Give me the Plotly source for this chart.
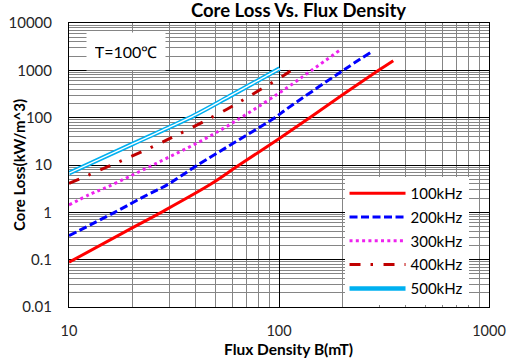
import plotly.graph_objects as go

# ---- data ----
names = ["100kHz", "200kHz", "300kHz", "400kHz", "500kHz"]

b_100k = [10, 20, 27.5, 47.6, 64.6, 100, 140, 200, 298, 350]
p_100k = [0.088, 0.47, 1.0, 4.0, 10, 36, 100, 300, 1000, 1600]

b_200k = [10, 16.5, 23.4, 29.6, 41, 95.5, 108, 202, 275]
p_200k = [0.32, 1.0, 2.3, 3.9, 10, 100, 149, 1000, 2440]

b_300k = [10, 12.6, 15.3, 25.1, 49.4, 100, 143, 194.5]
p_300k = [1.43, 2.4, 3.47, 10, 46.4, 330, 1000, 2650]

b_400k = [10, 15.3, 29.6, 56.5, 77.3, 105.7, 116.6]
p_400k = [4.1, 9.2, 34.7, 151, 340, 789, 1055]

b_500k = [10, 20, 39.7, 58.2, 100.7]
p_500k = [6.7, 27.6, 113, 284, 1090]

x_ticks = [10, 100, 1000]
y_ticks = [0.01, 0.1, 1, 10, 100, 1000, 10000]
y_tick_text = ["0.01", "0.1", "1", "10", "100", "1000", "10000"]

FONT = "Lato"
SMOOTH = 1.0

fig = go.Figure()

fig.add_trace(go.Scatter(x=b_100k, y=p_100k, mode="lines", name=names[0], legendgroup="g1",
                         line=dict(color="#FF0000", width=3, shape="spline", smoothing=SMOOTH)))
fig.add_trace(go.Scatter(x=b_200k, y=p_200k, mode="lines", name=names[1], legendgroup="g2",
                         line=dict(color="#0000FF", width=3, dash="8px,3.5px", shape="spline", smoothing=SMOOTH)))
fig.add_trace(go.Scatter(x=b_300k, y=p_300k, mode="lines", name=names[2], legendgroup="g3",
                         line=dict(color="#EE22EE", width=3, dash="3px,3.3px", shape="spline", smoothing=SMOOTH)))
fig.add_trace(go.Scatter(x=b_400k, y=p_400k, mode="lines", name=names[3], legendgroup="g4",
                         line=dict(color="#C00000", width=3, dash="11px,10px,2.5px,10.5px",
                                   shape="spline", smoothing=SMOOTH)))
fig.add_trace(go.Scatter(x=b_500k, y=p_500k, mode="lines", name=names[4], legendgroup="g5",
                         line=dict(color="#00B0F0", width=4.5, shape="spline", smoothing=SMOOTH)))
fig.add_trace(go.Scatter(x=b_500k, y=p_500k, mode="lines", showlegend=False, legendgroup="g5",
                         line=dict(color="#FFFFFF", width=1.4, shape="spline", smoothing=SMOOTH),
                         hoverinfo="skip"))

axis_common = dict(
    type="log",
    showgrid=True, gridcolor="#000000", gridwidth=1,
    showline=True, linecolor="#000000", linewidth=1, mirror=True,
    ticks="outside", tickcolor="rgba(0,0,0,0)",
    minor=dict(dtick="D1", showgrid=True, gridcolor="#858585", gridwidth=1),
    zeroline=False,
    automargin=False,
)

fig.update_xaxes(axis_common, range=[1, 3], tickvals=x_ticks, ticktext=[str(v) for v in x_ticks],
                 ticklen=11, tickfont=dict(family=FONT, size=14.5, color="#262626"))
fig.update_yaxes(axis_common, range=[-2, 4], tickvals=y_ticks, ticktext=y_tick_text,
                 ticklen=13, tickfont=dict(family=FONT, size=15, color="#262626"))

fig.update_layout(
    width=523, height=360,
    margin=dict(l=69, r=34, t=23, b=53),
    paper_bgcolor="white", plot_bgcolor="white",
    font=dict(family=FONT, color="#000000"),
    title=dict(text="<b>Core Loss Vs. Flux Density</b>", x=298.5 / 523, xref="container",
               xanchor="center", y=1 - 11 / 360, yanchor="middle",
               font=dict(family=FONT, size=18.5, color="#000000")),
    legend=dict(x=0.656, y=0.458, xanchor="left", yanchor="top", bgcolor="white",
                font=dict(family=FONT, size=15, color="#000000"),
                itemwidth=56, tracegroupgap=1.3),
    annotations=[
        dict(text="T=100℃", xref="paper", yref="paper", x=(126 - 69) / 420, y=(307 - 52) / 284,
             xanchor="center", yanchor="middle",
             showarrow=False, bgcolor="white", width=62, height=21, borderpad=8,
             font=dict(family=FONT, size=16, color="#000000")),
        dict(text="<b>Flux Density B(mT)</b>", xref="paper", yref="paper",
             x=(288.4 - 69) / 420, y=(307 - 348.5) / 284, showarrow=False,
             xanchor="center", yanchor="middle",
             font=dict(family=FONT, size=15.5, color="#000000")),
        dict(text="<b>Core Loss(kW/m^3)</b>", xref="paper", yref="paper",
             x=(19 - 69) / 420, y=0.5, showarrow=False, textangle=-90,
             xanchor="center", yanchor="middle",
             font=dict(family=FONT, size=15, color="#000000")),
    ],
)

fig.write_html("out.html", config={"displayModeBar": False},
               post_script="document.body.style.margin='0';document.body.style.padding='0';")
